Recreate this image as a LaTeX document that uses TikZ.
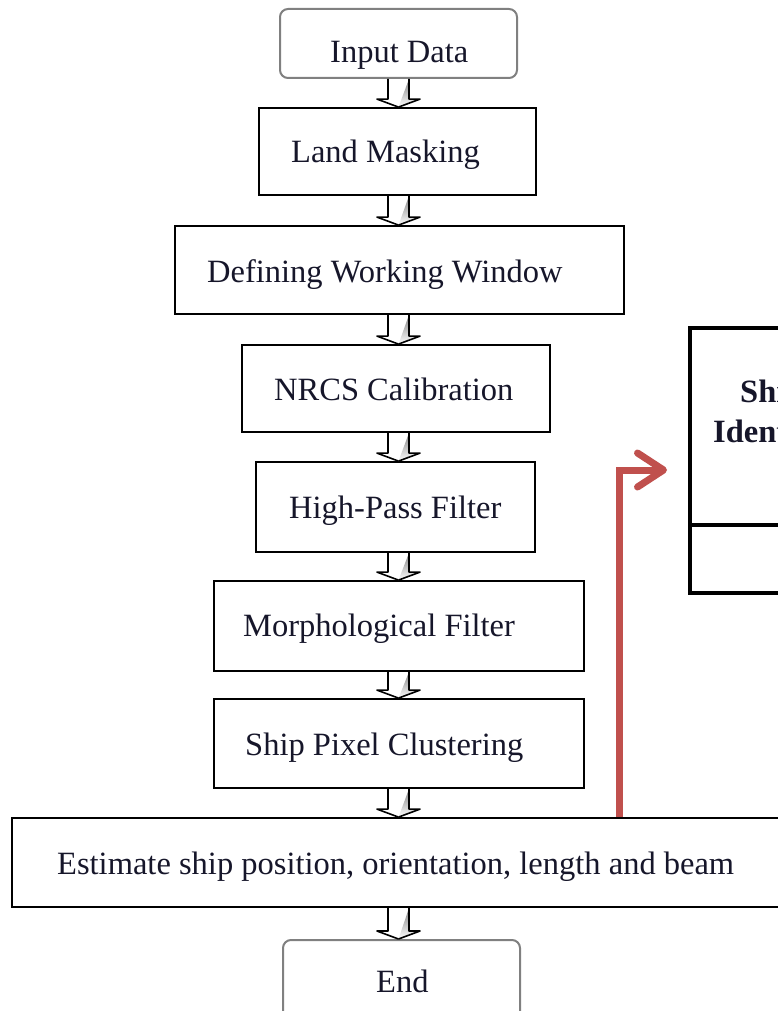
\documentclass[tikz,border=0pt]{standalone}
\usepackage{fontspec}
\setmainfont{Liberation Serif}
\usetikzlibrary{arrows.meta,calc}
\definecolor{inkred}{HTML}{C0504D}
\definecolor{txt}{HTML}{16162A}
\definecolor{shade}{HTML}{A8A8A8}

% hollow block arrow from the bottom of #1 to the top of #2
\newcommand\blockarrow[2]{%
  \draw[black, line width=1.6pt, line join=round]
    let \p1=(#1.south), \p2=(#2.north) in
    (388,\y1) -- (388,\y2+8) -- (377,\y2+8) -- (398.5,\y2);
  \draw[shade, line width=1.6pt, line join=round]
    let \p1=(#1.south), \p2=(#2.north) in
    (409,\y1) -- (409,\y2+8) -- (420,\y2+8) -- (398.5,\y2);
}

\begin{document}
\begin{tikzpicture}[x=1pt,y=-1pt,
  box/.style={draw=black, line width=1.8pt, inner sep=0pt},
  termbox/.style={draw=black!50, line width=2pt, rounded corners=8pt, inner sep=0pt},
  heavybox/.style={draw=black, line width=3.5pt, inner sep=0pt},
  lbl/.style={anchor=base west, inner sep=0pt, font=\fontsize{32.5}{38}\selectfont, text=txt},
  boldlbl/.style={lbl, font=\fontsize{32.5}{38}\selectfont\bfseries},
  feedback/.style={inkred, line width=7pt,
    -{Straight Barb[length=26pt, width=34pt, round]}}]
\useasboundingbox (0,0) rectangle (778,1011);
\clip (0,0) rectangle (778,1011);

% process boxes
\node[termbox, minimum width=237pt, minimum height=69pt] (input) at (398.5,43.5) {};
\node[box, minimum width=277pt, minimum height=87pt] (land)   at (397.5,151.5) {};
\node[box, minimum width=449pt, minimum height=88pt] (window) at (399.5,270) {};
\node[box, minimum width=308pt, minimum height=87pt] (nrcs)   at (396,388.5) {};
\node[box, minimum width=279pt, minimum height=90pt] (hpf)    at (395.5,507) {};
\node[box, minimum width=370pt, minimum height=90pt] (morph)  at (399,626) {};
\node[box, minimum width=370pt, minimum height=89pt] (spc)    at (399,743.5) {};
\node[box, minimum width=808pt, minimum height=89pt] (est)    at (416,862.5) {};
\node[termbox, minimum width=237pt, minimum height=110pt] (end) at (401.5,995) {};

% identification box on the right
\node[heavybox, minimum width=210pt, minimum height=265pt] (ident) at (795,460.5) {};
\coordinate (divl) at (690,525);
\draw[black, line width=3.5pt] (divl) -- (divl -| ident.east);

% texts
\node[lbl] (tinput)  at (330,63)  {Input Data};
\node[lbl] (tland)   at (291,163) {Land Masking};
\node[lbl] (twindow) at (207,282) {Defining Working Window};
\node[lbl] (tnrcs)   at (274,400) {NRCS Calibration};
\node[lbl] (thpf)    at (289,518) {High-Pass Filter};
\node[lbl] (tmorph)  at (243,636) {Morphological Filter};
\node[lbl] (tspc)    at (245,755) {Ship Pixel Clustering};
\node[lbl] (test)    at (57,874)  {Estimate ship position, orientation, length and beam};
\node[lbl] (tend)    at (376,992) {End};
\node[boldlbl] (tship)  at (740,402) {Ship};
\node[boldlbl] (tident) at (713,442) {Identification};

% flow arrows
\blockarrow{input}{land}
\blockarrow{land}{window}
\blockarrow{window}{nrcs}
\blockarrow{nrcs}{hpf}
\blockarrow{hpf}{morph}
\blockarrow{morph}{spc}
\blockarrow{spc}{est}
\blockarrow{est}{end}

% feedback arrow towards identification
\coordinate (redx) at (619,0);
\coordinate (redtip) at (667,470);
\draw[feedback] (redx |- est.north) |- (redtip);
\end{tikzpicture}
\end{document}
